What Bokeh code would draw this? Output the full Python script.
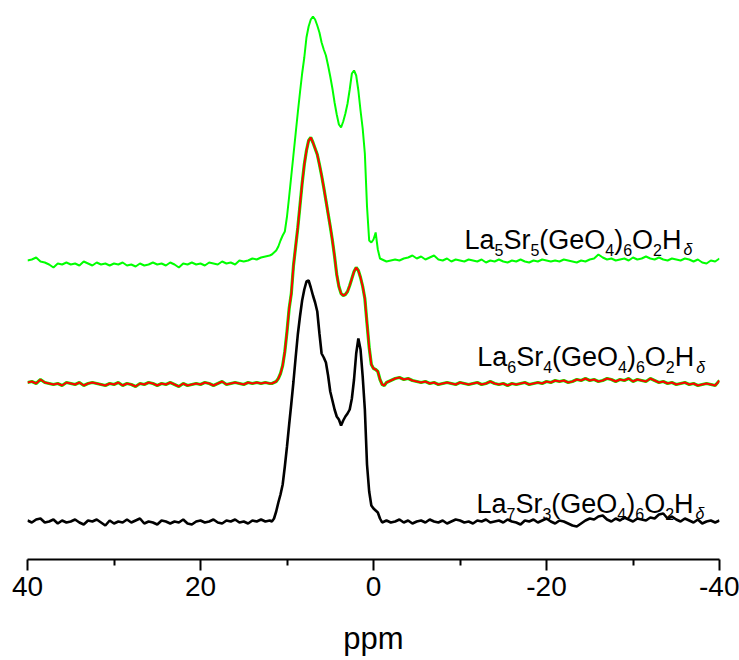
import numpy as np
from bokeh.plotting import figure
from bokeh.models import Range1d, FixedTicker
from bokeh.core.properties import value
from bokeh.embed import file_html
from bokeh.resources import INLINE

# ---------------- data ----------------
# sampling grids (ppm)
ppm_left = np.linspace(40.0, 12.0, 57)
ppm_peak = np.linspace(11.75, -1.25, 53)
ppm_right = np.linspace(-1.5, -40.0, 78)

# La7Sr3 (black)
black_left = [1, -1, 2, 3, -1, 0, 2, -2, 1, -1,
              0, 2, -1, -3, 1, 0, 2, -1, -4, 1,
              -2, 0, -1, 2, -1, 1, 3, -2, 0, -1,
              -3, 1, 0, -2, 0, -1, 2, -2, -3, 0,
              1, -1, 0, 2, -1, -2, 1, 0, 2, -1,
              0, -2, 1, 0, 2, 0, 1]
black_peak = [0, 3, 10, 19, 27, 37, 55, 75, 97, 118,
              140, 164, 187, 205, 221, 232, 240, 241, 234, 226,
              219, 210, 188, 168, 164, 159, 146, 130, 121, 112,
              105, 102, 96, 101, 105, 108, 112, 123, 142, 168,
              183, 172, 145, 112, 57, 30, 16, 13, 11, 9,
              3, -1, 0]
black_right = [1, -1, 0, 2, -1, 1, -2, 0, 1, -1,
               2, 0, -1, 1, -2, 0, 2, 1, -1, 0,
               -2, 1, 0, 2, -1, 0, 1, -1, 2, 0,
               -1, -3, 1, 0, 2, -1, 1, 3, 0, -2,
               1, 0, -2, -4, -5, -2, 1, 3, 2, 5,
               6, 2, 0, 3, 1, 4, 2, 0, 3, 2,
               1, 4, 3, 7, 8, 3, 5, 2, 0, 3,
               1, -1, 2, -2, 0, 1, -1, 1]

# La6Sr4 (red)
red_left = [1, 2, 0, 4, 1, 0, -1, 0, -2, 1,
            0, -1, 1, -2, 0, 1, 0, -1, -2, 0,
            -1, 1, -2, 0, -1, -3, 0, -1, 1, 0,
            -2, 0, -1, 1, -1, -3, 0, -2, -1, 0,
            -1, 1, 0, -2, 0, 2, -1, 0, 1, 0,
            -1, 1, 0, 1, 0, 1, 0]
red_peak = [0, 1, 2, 5, 10, 18, 32, 52, 75, 90,
            118, 137, 156, 178, 200, 219, 233, 243, 246, 241,
            235, 229, 219, 208, 196, 183, 170, 157, 143, 127,
            109, 97, 90, 88, 89, 92, 98, 105, 112, 116,
            113, 106, 97, 85, 60, 36, 19, 15, 14, 12,
            4, -1, -2]
red_right = [1, 3, 5, 6, 4, 5, 3, 2, 1, 2,
             0, 1, -1, 0, 1, 0, -1, 1, 0, -1,
             0, 1, -1, 0, 2, 0, -1, 0, -2, 0,
             -1, 0, 1, -1, 0, 1, 0, 2, 1, 3,
             2, 3, 1, 2, 4, 3, 5, 3, 4, 2,
             3, 5, 4, 2, 4, 3, 5, 2, 4, 3,
             2, 5, 3, 1, 2, 0, 1, -1, 0, 1,
             -1, 0, -2, -1, 0, -1, -2, 3]

# La5Sr5 (green)
green_left = [1, 2, 4, 0, -1, -3, -6, -2, -3, -1,
              -3, -2, -4, 0, -2, -4, -1, -3, -2, -4,
              -2, -3, -1, -4, -3, -5, -2, -4, -3, -1,
              -3, -2, -4, -1, -3, -6, -2, -3, -1, -3,
              -2, -4, -1, -2, -3, 0, -2, -1, -3, 1,
              0, 1, 3, 2, 4, 5, 6]
green_peak = [7, 9, 11, 15, 21, 26, 30, 45, 65, 86,
              107, 128, 149, 169, 188, 204, 224, 235, 242, 245,
              242, 236, 229, 219, 212, 206, 196, 185, 173, 159,
              147, 137, 134, 140, 148, 158, 172, 188, 191, 186,
              171, 151, 133, 108, 55, 21, 19, 22, 29, 12,
              3, 2, 1]
green_right = [0, 1, 2, 1, 3, 4, 6, 3, 5, 2,
               4, 6, 2, 1, 3, 0, 2, 1, 0, 2,
               1, 0, 2, -1, 1, 0, 2, 0, -1, 1,
               0, 2, 0, -1, 1, 0, 2, 1, 0, 1,
               0, 2, 1, 0, -1, 1, 0, 2, 3, 7,
               4, 2, 3, 1, 2, 3, 1, 4, 2, 3,
               5, 3, 2, 4, 2, 1, 3, 2, 1, 3,
               2, 0, 2, -1, -2, 1, 0, 3]

names = ["La7Sr3(GeO4)6O2Hδ", "La6Sr4(GeO4)6O2Hδ", "La5Sr5(GeO4)6O2Hδ"]
tick_values = [40, 20, 0, -20, -40]
minor_tick_values = [30, 10, -10, -30]

# ---------------- layout constants ----------------
offsets = [38, 176, 298]                       # vertical stacking of spectra
label_anchor = [(-11.91, 55.7), (-11.99, 202.3), (-10.52, 319.7)]

W, H = 739, 660
MB_L, MB_R, MB_B = 27, 20, 101
frame_w = W - MB_L - MB_R
frame_h = H - MB_B
px_per_ppm = frame_w / 80.0

ppm = np.concatenate([ppm_left, ppm_peak, ppm_right])
series = [
    np.array(black_left + black_peak + black_right, dtype=float),
    np.array(red_left + red_peak + red_right, dtype=float),
    np.array(green_left + green_peak + green_right, dtype=float),
]

p = figure(width=W, height=H, output_backend="svg", toolbar_location=None,
           x_range=Range1d(40, -40), y_range=Range1d(0, frame_h),
           min_border_left=MB_L, min_border_right=MB_R,
           min_border_top=0, min_border_bottom=MB_B)
p.outline_line_color = None
p.grid.visible = False
p.yaxis.visible = False
p.background_fill_color = "white"
p.border_fill_color = "white"

# spectra
p.line(ppm, series[0] + offsets[0], line_color="black", line_width=2.6)
p.line(ppm, series[1] + offsets[1], line_color="#00ff00", line_width=3.2)
p.line(ppm, series[1] + offsets[1], line_color="#ff0000", line_width=2)
p.line(ppm, series[2] + offsets[2], line_color="#00ff00", line_width=2)

# x axis
ax = p.xaxis[0]
ax.ticker = FixedTicker(ticks=tick_values, minor_ticks=minor_tick_values)
ax.major_label_overrides = {t: str(t) for t in tick_values}
ax.axis_line_width = 2
ax.axis_line_color = "black"
ax.major_tick_line_width = 2
ax.minor_tick_line_width = 2
ax.major_tick_in = 0
ax.major_tick_out = 11
ax.minor_tick_in = 0
ax.minor_tick_out = 6
ax.major_label_text_font = "Liberation Sans"
ax.major_label_text_font_size = "28px"
ax.major_label_text_color = "black"
ax.major_label_standoff = 6
ax.axis_label = "ppm"
ax.axis_label_text_font = "Liberation Sans"
ax.axis_label_text_font_size = "31px"
ax.axis_label_text_font_style = "normal"
ax.axis_label_text_color = "black"
ax.axis_label_standoff = 22

# formula labels with subscripts
ADV = {'L': 0.556, 'a': 0.556, 'S': 0.667, 'r': 0.333, '(': 0.333, 'G': 0.778,
       'e': 0.556, 'O': 0.778, ')': 0.333, 'H': 0.722}
for d in "0123456789":
    ADV[d] = 0.556
MAIN_FS, SUB_FS = 27.0, 16.0


def split(formula):
    out, cur, kind = [], "", None
    for ch in formula:
        k = "sub" if ch.isdigit() else ("delta" if ch == "δ" else "main")
        if kind is not None and k != kind:
            out.append((cur, kind))
            cur = ""
        cur += ch
        kind = k
    out.append((cur, kind))
    return out


groups = {"main": dict(x=[], y=[], t=[]), "sub": dict(x=[], y=[], t=[]),
          "delta": dict(x=[], y=[], t=[])}
for name, (x0, y0) in zip(names, label_anchor):
    xpx = 0.0
    for txt, kind in split(name):
        if kind == "delta":
            xpx += 2
        fs = MAIN_FS if kind == "main" else SUB_FS
        dy = 0 if kind == "main" else -10
        g = groups[kind]
        g["x"].append(x0 - xpx / px_per_ppm)
        g["y"].append(y0 + dy)
        g["t"].append(txt)
        xpx += sum(ADV.get(c, 0.5) for c in txt) * fs

for kind, g in groups.items():
    fs = MAIN_FS if kind == "main" else SUB_FS
    p.text(x=g["x"], y=g["y"], text=g["t"],
           text_font=value("Liberation Sans"), text_font_size=value(f"{fs:g}px"),
           text_font_style=value("italic" if kind == "delta" else "normal"),
           text_color="black", text_align="left", text_baseline="alphabetic")

open("out.html", "w").write(file_html(p, INLINE))
